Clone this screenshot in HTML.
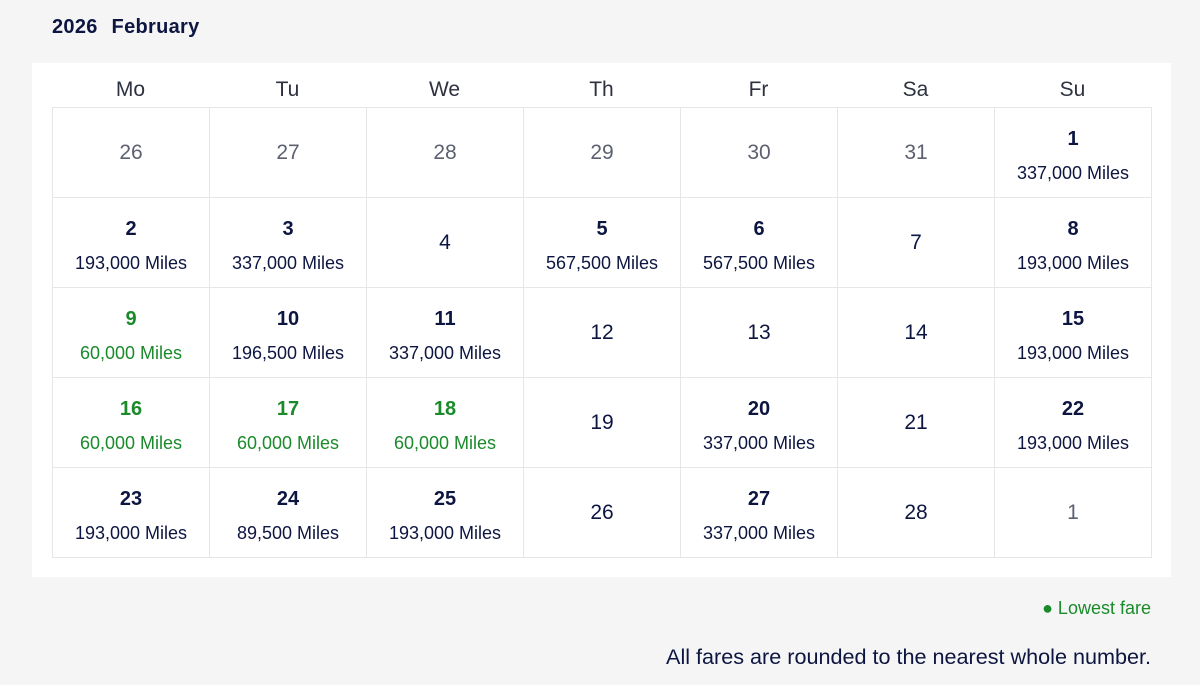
<!DOCTYPE html>
<html><head><meta charset="utf-8"><style>
*{margin:0;padding:0;box-sizing:border-box}
body{width:1200px;height:685px;background:#f5f5f5;font-family:"Liberation Sans",sans-serif;color:#0d1541;position:relative;overflow:hidden}
.title{position:absolute;left:52px;top:16px;font-size:20px;font-weight:bold;word-spacing:8px;letter-spacing:0.3px}
.panel{position:absolute;left:32px;top:63px;width:1139px;height:514px;background:#fff}
.hd{position:absolute;top:78px;width:157px;text-align:center;font-size:21px;color:#2d3140}
.grid{position:absolute;left:52px;top:107px;width:1100px;height:451px;border-top:1px solid #e6e6e6;border-left:1px solid #e6e6e6}
.c{position:absolute;width:157px;height:90px;border-right:1px solid #e6e6e6;border-bottom:1px solid #e6e6e6;text-align:center}
.d{position:absolute;left:0;right:0;top:19px;font-size:20px;font-weight:bold;line-height:24px}
.m{position:absolute;left:0;right:0;top:53px;font-size:18px;line-height:24px}
.p{position:absolute;left:0;right:0;top:33px;font-size:21px;line-height:24px}
.g{color:#1a8a2a}
.o{color:#5c6070}
.leg{position:absolute;right:49px;top:598px;font-size:18px;color:#1a8a2a}
.note{position:absolute;right:49px;top:644px;font-size:21.6px}
</style></head><body>
<div class="title">2026 February</div>
<div class="panel"></div>
<div class="hd" style="left:52px">Mo</div><div class="hd" style="left:209px">Tu</div><div class="hd" style="left:366px">We</div><div class="hd" style="left:523px">Th</div><div class="hd" style="left:680px">Fr</div><div class="hd" style="left:837px">Sa</div><div class="hd" style="left:994px">Su</div>
<div class="grid" id="g"></div>
<script>
var data=[
[["26","","o"],["27","","o"],["28","","o"],["29","","o"],["30","","o"],["31","","o"],["1","337,000 Miles"]],
[["2","193,000 Miles"],["3","337,000 Miles"],["4",""],["5","567,500 Miles"],["6","567,500 Miles"],["7",""],["8","193,000 Miles"]],
[["9","60,000 Miles","g"],["10","196,500 Miles"],["11","337,000 Miles"],["12",""],["13",""],["14",""],["15","193,000 Miles"]],
[["16","60,000 Miles","g"],["17","60,000 Miles","g"],["18","60,000 Miles","g"],["19",""],["20","337,000 Miles"],["21",""],["22","193,000 Miles"]],
[["23","193,000 Miles"],["24","89,500 Miles"],["25","193,000 Miles"],["26",""],["27","337,000 Miles"],["28",""],["1","","o"]]];
var h="";
data.forEach(function(r,i){r.forEach(function(c,j){
h+='<div class="c '+(c[2]||"")+'" style="left:'+(j*157)+'px;top:'+(i*90)+'px">'+
(c[1]?'<div class="d">'+c[0]+'</div><div class="m">'+c[1]+'</div>':'<div class="p">'+c[0]+'</div>')+'</div>';});});
document.getElementById("g").innerHTML=h;
</script>
<div class="leg">● Lowest fare</div>
<div class="note">All fares are rounded to the nearest whole number.</div>
</body></html>
